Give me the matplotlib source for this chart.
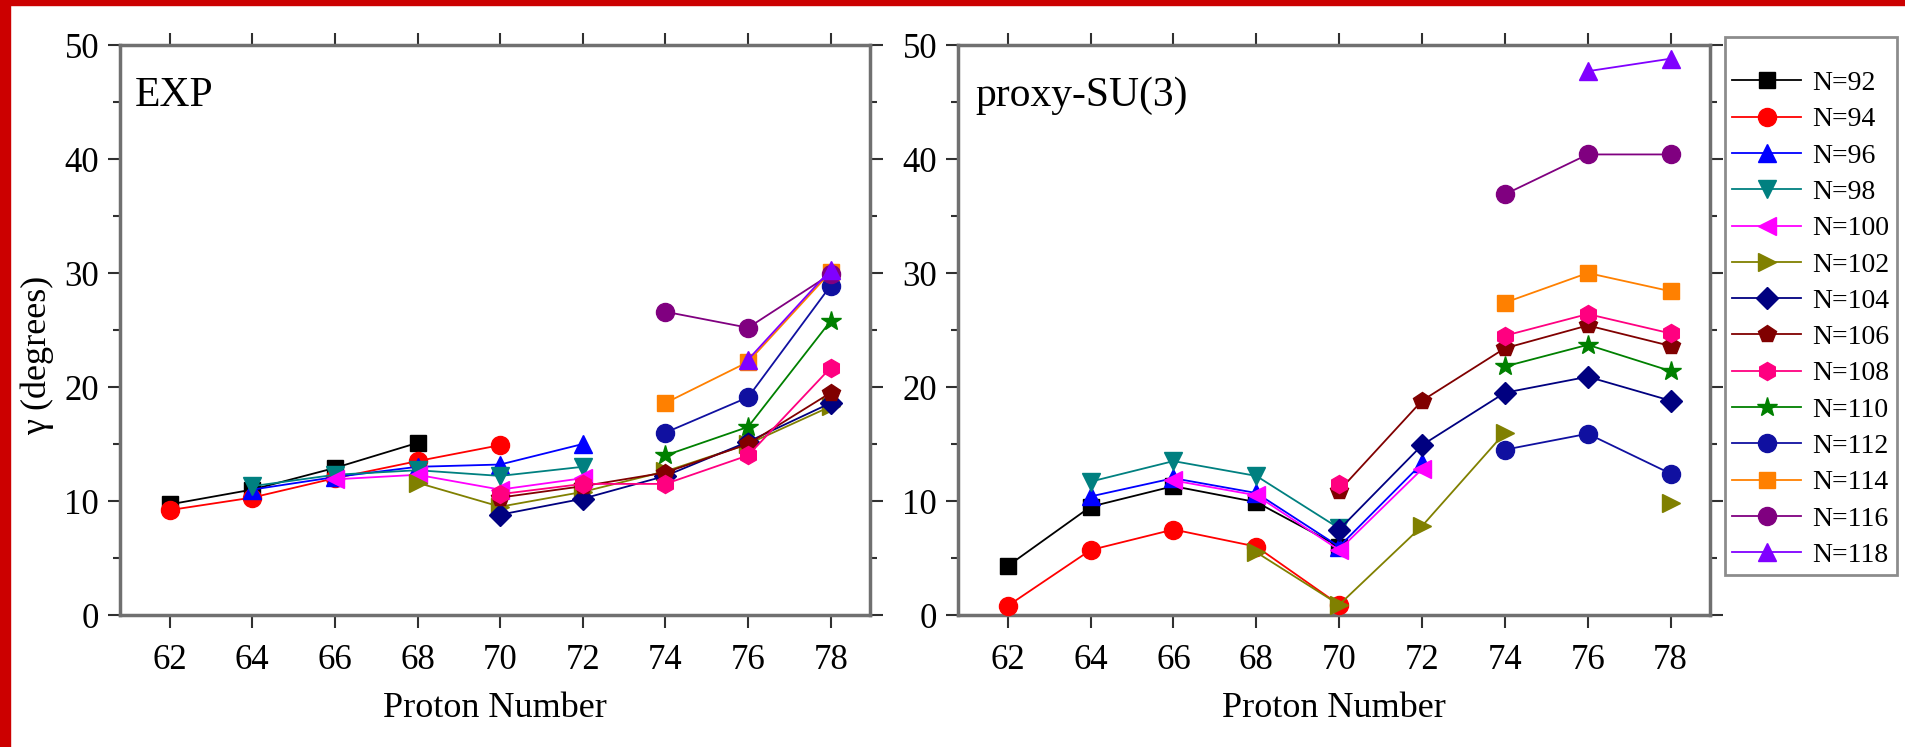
import numpy as np
import matplotlib
matplotlib.use('Agg')
import matplotlib.pyplot as plt
from matplotlib.patches import Rectangle

plt.rcParams['font.family'] = ['Liberation Serif', 'DejaVu Serif']

nan = np.nan
Z = [62, 64, 66, 68, 70, 72, 74, 76, 78]
labels = ['N=92', 'N=94', 'N=96', 'N=98', 'N=100', 'N=102', 'N=104',
          'N=106', 'N=108', 'N=110', 'N=112', 'N=114', 'N=116', 'N=118']

# experimental gamma
exp_92 = [9.7, 11.0, 12.9, 15.1, nan, nan, nan, nan, nan]
exp_94 = [9.2, 10.3, 12.0, 13.5, 14.9, nan, nan, nan, nan]
exp_96 = [nan, 11.0, 12.1, 13.0, 13.2, 15.0, nan, nan, nan]
exp_98 = [nan, 11.3, 12.3, 12.7, 12.2, 13.0, nan, nan, nan]
exp_100 = [nan, nan, 11.9, 12.3, 11.0, 12.0, nan, nan, nan]
exp_102 = [nan, nan, nan, 11.6, 9.5, 10.8, 12.6, 15.0, 18.3]
exp_104 = [nan, nan, nan, nan, 8.8, 10.2, 12.2, 15.2, 18.6]
exp_106 = [nan, nan, nan, nan, 10.3, 11.3, 12.5, 15.0, 19.5]
exp_108 = [nan, nan, nan, nan, 10.6, 11.5, 11.5, 14.0, 21.7]
exp_110 = [nan, nan, nan, nan, nan, nan, 14.0, 16.5, 25.8]
exp_112 = [nan, nan, nan, nan, nan, nan, 16.0, 19.1, 28.9]
exp_114 = [nan, nan, nan, nan, nan, nan, 18.6, 22.2, 30.1]
exp_116 = [nan, nan, nan, nan, nan, nan, 26.6, 25.2, 29.9]
exp_118 = [nan, nan, nan, nan, nan, nan, nan, 22.4, 30.3]

# proxy-SU(3) gamma
su3_92 = [4.3, 9.5, 11.3, 9.9, 6.0, nan, nan, nan, nan]
su3_94 = [0.8, 5.7, 7.5, 6.0, 0.9, nan, nan, nan, nan]
su3_96 = [nan, 10.4, 12.0, 10.7, 6.0, 13.3, nan, nan, nan]
su3_98 = [nan, 11.7, 13.5, 12.2, 7.6, nan, nan, nan, nan]
su3_100 = [nan, nan, 11.8, 10.5, 5.7, 12.8, nan, nan, nan]
su3_102 = [nan, nan, nan, 5.5, 0.9, 7.8, 16.0, nan, 9.8]
su3_104 = [nan, nan, nan, nan, 7.5, 14.9, 19.5, 20.9, 18.8]
su3_106 = [nan, nan, nan, nan, 10.9, 18.8, 23.4, 25.4, 23.6]
su3_108 = [nan, nan, nan, nan, 11.5, nan, 24.5, 26.4, 24.7]
su3_110 = [nan, nan, nan, nan, nan, nan, 21.8, 23.7, 21.4]
su3_112 = [nan, nan, nan, nan, nan, nan, 14.5, 15.9, 12.4]
su3_114 = [nan, nan, nan, nan, nan, nan, 27.4, 30.0, 28.4]
su3_116 = [nan, nan, nan, nan, nan, nan, 36.9, 40.4, 40.4]
su3_118 = [nan, nan, nan, nan, nan, nan, nan, 47.7, 48.8]

exp_all = [exp_92, exp_94, exp_96, exp_98, exp_100, exp_102, exp_104,
           exp_106, exp_108, exp_110, exp_112, exp_114, exp_116, exp_118]
su3_all = [su3_92, su3_94, su3_96, su3_98, su3_100, su3_102, su3_104,
           su3_106, su3_108, su3_110, su3_112, su3_114, su3_116, su3_118]

colors = ['#000000', '#ff0000', '#0000ff', '#008080', '#ff00ff', '#808000',
          '#000080', '#800000', '#ff0080', '#008000', '#1010a0', '#ff8000',
          '#800080', '#8000ff']
markers = ['s', 'o', '^', 'v', '<', '>', 'D', 'p', 'h', '*', 'o', 's', 'o', '^']
msizes = [12, 13, 13, 13, 13, 13, 11, 13, 13, 15, 13, 12, 13, 13]

fig = plt.figure(figsize=(19.05, 7.47), dpi=100)
ax1 = fig.add_axes([120/1905, 132/747, 750/1905, 570/747])
ax2 = fig.add_axes([958/1905, 132/747, 752/1905, 570/747])

for ax, data in [(ax1, exp_all), (ax2, su3_all)]:
    for i in range(len(labels)):
        ax.plot(Z, data[i], color=colors[i], marker=markers[i],
                markersize=msizes[i], linewidth=1.3, label=labels[i],
                clip_on=False, zorder=3 + i)
    ax.set_xlim(60.8, 78.95)
    ax.set_ylim(0, 50)
    ax.set_xticks(Z)
    ax.set_yticks([0, 10, 20, 30, 40, 50])
    ax.set_yticks([5, 15, 25, 35, 45], minor=True)
    ax.tick_params(which='both', direction='out', top=True, right=True,
                   labeltop=False, labelright=False, width=1.5, color='#303030')
    ax.tick_params(which='major', length=9, labelsize=25)
    ax.tick_params(which='minor', length=5)
    ax.tick_params(axis='x', pad=12)
    ax.tick_params(axis='y', pad=6)
    for s in ax.spines.values():
        s.set_color('#707070')
        s.set_linewidth(2.5)
    ax.set_xlabel('Proton Number', fontsize=26, labelpad=11)

ax1.set_ylabel('γ (degrees)', fontsize=26)
ax1.yaxis.set_label_coords(-0.088, 0.455)
ax1.text(0.02, 0.945, 'EXP', transform=ax1.transAxes, fontsize=30,
         va='top', ha='left')
ax2.text(0.023, 0.945, 'proxy-SU(3)', transform=ax2.transAxes, fontsize=30,
         va='top', ha='left')

h, l = ax2.get_legend_handles_labels()
leg = fig.legend(h, l, loc='upper left', bbox_to_anchor=(1725/1905, 1 - 37/747),
                 borderaxespad=0, fontsize=20, labelspacing=0.39,
                 handlelength=2.5, handletextpad=0.4, borderpad=0.25,
                 fancybox=False, title=' ', title_fontsize=12)
leg.get_frame().set_edgecolor('#707070')
leg.get_frame().set_linewidth(2.0)

# red frame at left and top edge of the picture
fig.add_artist(Rectangle((0, 0), 10/1905, 1, transform=fig.transFigure,
                         color='#cc0000', zorder=10))
fig.add_artist(Rectangle((0, 1 - 5/747), 1, 5/747, transform=fig.transFigure,
                         color='#cc0000', zorder=10))

fig.savefig('out.png', dpi=100)
